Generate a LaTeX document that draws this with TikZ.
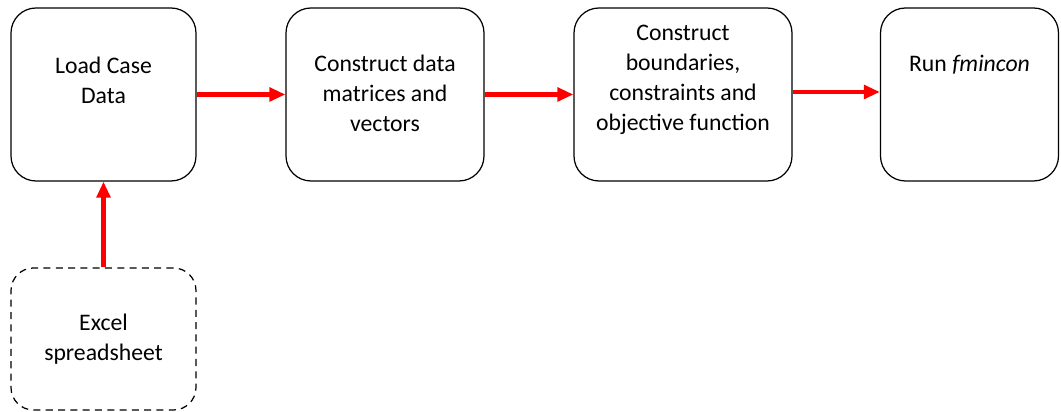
\documentclass[tikz,border=0pt]{standalone}
\usepackage{fontspec}
\setmainfont{Carlito}
\usetikzlibrary{arrows.meta}
\begin{document}
\begin{tikzpicture}[
  box/.style={draw, line width=0.7pt, rounded corners=0.5cm, minimum height=3.46cm},
  srcbox/.style={draw, line width=0.7pt, dashed, dash pattern=on 4pt off 3pt, rounded corners=0.45cm, minimum width=3.7cm, minimum height=2.84cm},
  txt/.style={align=center, font=\fontsize{13.5}{17}\selectfont},
  flow/.style={draw=red, line width=2.4pt, -{Triangle[length=0.32cm,width=0.27cm]}}
]
  \useasboundingbox (0,0) rectangle (21.22,8.24);
  % main chain
  \node[box, minimum width=3.7cm] (load) at (2.07,6.35) {};
  \node[box, minimum width=3.96cm] (mats) at (7.70,6.35) {};
  \node[box, minimum width=4.36cm] (cons) at (13.66,6.35) {};
  \node[box, minimum width=3.56cm] (run) at (19.39,6.35) {};
  \node[srcbox] (xls) at (2.07,1.46) {};
  % labels
  \node[txt] (load-txt) at ([yshift=0.29cm]load.center) {Load Case\\Data};
  \node[txt] (mats-txt) at ([yshift=0.02cm]mats.center) {Construct data\\matrices and\\vectors};
  \node[txt] (cons-txt) at ([yshift=0.29cm]cons.center) {Construct\\boundaries,\\constraints and\\objective function};
  \node[txt] (run-txt) at ([yshift=0.59cm]run.center) {Run \textit{fmincon}};
  \node[txt] (xls-txt) at (xls.center) {Excel\\spreadsheet};
  % arrows
  \draw[flow] (load.east) -- (mats.west);
  \draw[flow] (mats.east) -- (cons.west);
  \draw[flow] ([yshift=0.05cm]cons.east) -- ([yshift=0.05cm]run.west);
  \draw[flow] (xls.north) -- (load.south);
\end{tikzpicture}
\end{document}
